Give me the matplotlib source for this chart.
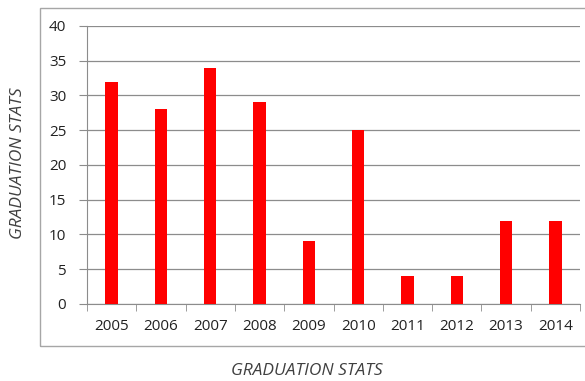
import numpy as np
from matplotlib import pyplot as plt
from matplotlib.patches import Rectangle

# data
years = ['2005', '2006', '2007', '2008', '2009', '2010', '2011', '2012', '2013', '2014']
grads = [32, 28, 34, 29, 9, 25, 4, 4, 12, 12]
y_ticks = [0, 5, 10, 15, 20, 25, 30, 35, 40]

plt.rcParams['font.family'] = ['Open Sans', 'DejaVu Sans']

fig = plt.figure(figsize=(5.85, 3.81), dpi=100)
fig.patch.set_facecolor('white')

# outer chart frame, like the spreadsheet chart border
fig.patches.append(Rectangle((0.068, 0.092), 1.0, 0.887, transform=fig.transFigure,
                             fill=False, edgecolor='#a6a6a6', linewidth=1.0))

ax = fig.add_axes([0.1487, 0.2021, 0.8428, 0.7297])
x = np.arange(len(years))
ax.bar(x, grads, width=0.25, color='#ff0000', zorder=3)

ax.set_xlim(-0.5, len(years) - 0.5)
ax.set_ylim(0, 40)
ax.set_yticks(y_ticks)
ax.yaxis.grid(True, color='#8c8c8c', linewidth=0.9, zorder=0)

ax.set_xticks(x)
ax.set_xticklabels(years)
ax.set_xticks(np.arange(len(years) + 1) - 0.5, minor=True)
ax.tick_params(axis='x', which='major', length=0, pad=11, labelsize=11, colors='#222222')
ax.tick_params(axis='x', which='minor', length=5, direction='out', color='#8c8c8c')
ax.tick_params(axis='y', length=6, direction='out', color='#8c8c8c', labelsize=11,
               labelcolor='#222222', pad=9)

for side in ['top', 'right']:
    ax.spines[side].set_visible(False)
for side in ['left', 'bottom']:
    ax.spines[side].set_color('#8c8c8c')

fig.text(0.525, 0.026, 'GRADUATION STATS', ha='center', va='center',
         style='italic', fontsize=12.5, color='#404040')
fig.text(0.031, 0.572, 'GRADUATION STATS', ha='center', va='center', rotation=90,
         style='italic', fontsize=12.5, color='#404040')

plt.savefig('out.png', dpi=100)
